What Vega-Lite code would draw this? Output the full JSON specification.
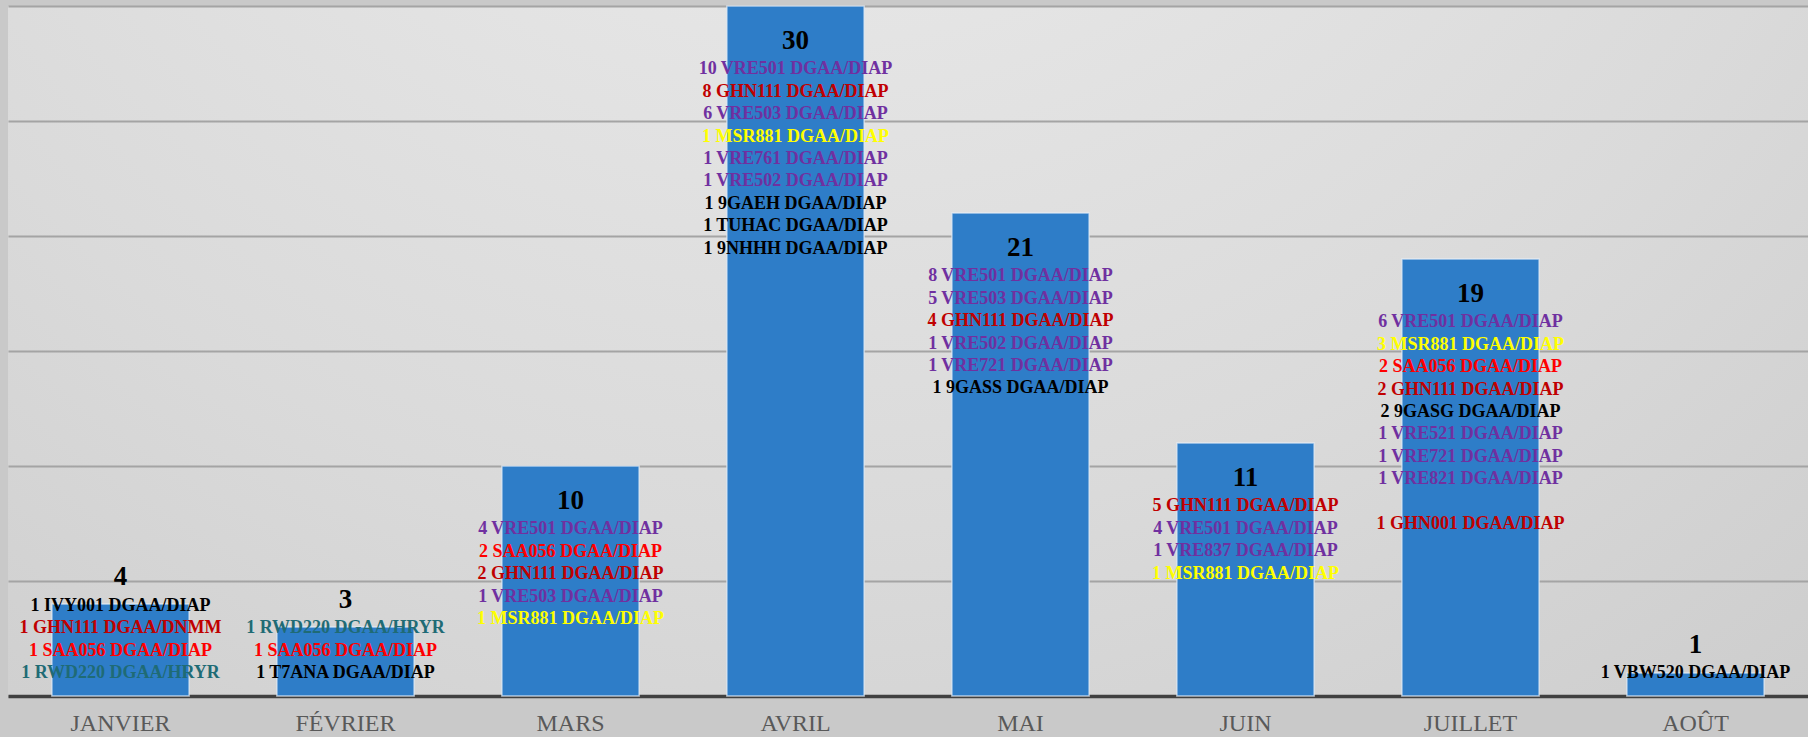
{
  "$schema": "https://vega.github.io/schema/vega-lite/v6.json",
  "width": 1800,
  "height": 690,
  "padding": {"left": 8, "top": 5, "right": 0, "bottom": 2},
  "background": "#C9C9C9",
  "config": {
    "view": {
      "stroke": null,
      "fill": {
        "gradient": "radial",
        "x1": 0.45, "y1": 0.0, "r1": 0,
        "x2": 0.45, "y2": 0.0, "r2": 1.0,
        "stops": [
          {"offset": 0, "color": "#F0F0F0"},
          {"offset": 0.6, "color": "#DADADA"},
          {"offset": 1, "color": "#C8C8C8"}
        ]
      }
    },
    "font": "Liberation Serif"
  },
  "datasets": {
    "mois": [
      {"mois": "JANVIER", "total": 4},
      {"mois": "FÉVRIER", "total": 3},
      {"mois": "MARS", "total": 10},
      {"mois": "AVRIL", "total": 30},
      {"mois": "MAI", "total": 21},
      {"mois": "JUIN", "total": 11},
      {"mois": "JUILLET", "total": 19},
      {"mois": "AOÛT", "total": 1}
    ],
    "lignes": [
      {"mois": "JANVIER", "rang": 1, "famille": "IVY", "texte": "1 IVY001 DGAA/DIAP"},
      {"mois": "JANVIER", "rang": 2, "famille": "GHN", "texte": "1 GHN111 DGAA/DNMM"},
      {"mois": "JANVIER", "rang": 3, "famille": "SAA", "texte": "1 SAA056 DGAA/DIAP"},
      {"mois": "JANVIER", "rang": 4, "famille": "RWD", "texte": "1 RWD220 DGAA/HRYR"},
      {"mois": "FÉVRIER", "rang": 1, "famille": "RWD", "texte": "1 RWD220 DGAA/HRYR"},
      {"mois": "FÉVRIER", "rang": 2, "famille": "SAA", "texte": "1 SAA056 DGAA/DIAP"},
      {"mois": "FÉVRIER", "rang": 3, "famille": "T7A", "texte": "1 T7ANA DGAA/DIAP"},
      {"mois": "MARS", "rang": 1, "famille": "VRE", "texte": "4 VRE501 DGAA/DIAP"},
      {"mois": "MARS", "rang": 2, "famille": "SAA", "texte": "2 SAA056 DGAA/DIAP"},
      {"mois": "MARS", "rang": 3, "famille": "GHN", "texte": "2 GHN111 DGAA/DIAP"},
      {"mois": "MARS", "rang": 4, "famille": "VRE", "texte": "1 VRE503 DGAA/DIAP"},
      {"mois": "MARS", "rang": 5, "famille": "MSR", "texte": "1 MSR881 DGAA/DIAP"},
      {"mois": "AVRIL", "rang": 1, "famille": "VRE", "texte": "10 VRE501 DGAA/DIAP"},
      {"mois": "AVRIL", "rang": 2, "famille": "GHN", "texte": "8 GHN111 DGAA/DIAP"},
      {"mois": "AVRIL", "rang": 3, "famille": "VRE", "texte": "6 VRE503 DGAA/DIAP"},
      {"mois": "AVRIL", "rang": 4, "famille": "MSR", "texte": "1 MSR881 DGAA/DIAP"},
      {"mois": "AVRIL", "rang": 5, "famille": "VRE", "texte": "1 VRE761 DGAA/DIAP"},
      {"mois": "AVRIL", "rang": 6, "famille": "VRE", "texte": "1 VRE502 DGAA/DIAP"},
      {"mois": "AVRIL", "rang": 7, "famille": "9GA", "texte": "1 9GAEH DGAA/DIAP"},
      {"mois": "AVRIL", "rang": 8, "famille": "TUH", "texte": "1 TUHAC DGAA/DIAP"},
      {"mois": "AVRIL", "rang": 9, "famille": "9NH", "texte": "1 9NHHH DGAA/DIAP"},
      {"mois": "MAI", "rang": 1, "famille": "VRE", "texte": "8 VRE501 DGAA/DIAP"},
      {"mois": "MAI", "rang": 2, "famille": "VRE", "texte": "5 VRE503 DGAA/DIAP"},
      {"mois": "MAI", "rang": 3, "famille": "GHN", "texte": "4 GHN111 DGAA/DIAP"},
      {"mois": "MAI", "rang": 4, "famille": "VRE", "texte": "1 VRE502 DGAA/DIAP"},
      {"mois": "MAI", "rang": 5, "famille": "VRE", "texte": "1 VRE721 DGAA/DIAP"},
      {"mois": "MAI", "rang": 6, "famille": "9GA", "texte": "1 9GASS DGAA/DIAP"},
      {"mois": "JUIN", "rang": 1, "famille": "GHN", "texte": "5 GHN111 DGAA/DIAP"},
      {"mois": "JUIN", "rang": 2, "famille": "VRE", "texte": "4 VRE501 DGAA/DIAP"},
      {"mois": "JUIN", "rang": 3, "famille": "VRE", "texte": "1 VRE837 DGAA/DIAP"},
      {"mois": "JUIN", "rang": 4, "famille": "MSR", "texte": "1 MSR881 DGAA/DIAP"},
      {"mois": "JUILLET", "rang": 1, "famille": "VRE", "texte": "6 VRE501 DGAA/DIAP"},
      {"mois": "JUILLET", "rang": 2, "famille": "MSR", "texte": "3 MSR881 DGAA/DIAP"},
      {"mois": "JUILLET", "rang": 3, "famille": "SAA", "texte": "2 SAA056 DGAA/DIAP"},
      {"mois": "JUILLET", "rang": 4, "famille": "GHN", "texte": "2 GHN111 DGAA/DIAP"},
      {"mois": "JUILLET", "rang": 5, "famille": "9GA", "texte": "2 9GASG DGAA/DIAP"},
      {"mois": "JUILLET", "rang": 6, "famille": "VRE", "texte": "1 VRE521 DGAA/DIAP"},
      {"mois": "JUILLET", "rang": 7, "famille": "VRE", "texte": "1 VRE721 DGAA/DIAP"},
      {"mois": "JUILLET", "rang": 8, "famille": "VRE", "texte": "1 VRE821 DGAA/DIAP"},
      {"mois": "JUILLET", "rang": 10, "famille": "GHN", "texte": "1 GHN001 DGAA/DIAP"},
      {"mois": "AOÛT", "rang": 1, "famille": "VBW", "texte": "1 VBW520 DGAA/DIAP"}
    ]
  },
  "encoding": {
    "x": {
      "field": "mois",
      "type": "nominal",
      "scale": {
        "domain": ["JANVIER", "FÉVRIER", "MARS", "AVRIL", "MAI", "JUIN", "JUILLET", "AOÛT"],
        "paddingInner": 0.39,
        "paddingOuter": 0.195
      },
      "axis": {
        "title": null,
        "labelAngle": 0,
        "ticks": false,
        "domainColor": "#404040",
        "domainWidth": 3.5,
        "labelFont": "Liberation Serif",
        "labelFontSize": 24,
        "labelColor": "#595959",
        "labelPadding": 15
      }
    }
  },
  "layer": [
    {
      "data": {"name": "mois"},
      "mark": {"type": "bar", "color": "#2E7DC8", "stroke": "#E8F0F8", "strokeOpacity": 0.7, "strokeWidth": 1.5},
      "encoding": {
        "y": {
          "field": "total",
          "type": "quantitative",
          "scale": {"domain": [0, 30], "nice": false, "zero": true},
          "axis": {
            "title": null,
            "values": [0, 5, 10, 15, 20, 25, 30],
            "labels": false,
            "ticks": false,
            "domain": false,
            "grid": true,
            "gridColor": "#A4A4A4",
            "gridWidth": 2
          }
        }
      }
    },
    {
      "data": {"name": "lignes"},
      "transform": [
        {"aggregate": [{"op": "max", "field": "rang", "as": "n"}], "groupby": ["mois"]},
        {"lookup": "mois", "from": {"data": {"name": "mois"}, "key": "mois", "fields": ["total"]}},
        {"calculate": "max(datum.total, 3.74 + 0.978 * (datum.n - 1))", "as": "ancre"}
      ],
      "mark": {"type": "text", "font": "Liberation Serif", "fontWeight": "bold", "fontSize": 27, "baseline": "middle", "color": "#000000", "dy": 35},
      "encoding": {
        "y": {"field": "ancre", "type": "quantitative"},
        "text": {"field": "total", "type": "quantitative"}
      }
    },
    {
      "data": {"name": "lignes"},
      "transform": [
        {"joinaggregate": [{"op": "max", "field": "rang", "as": "n"}], "groupby": ["mois"]},
        {"lookup": "mois", "from": {"data": {"name": "mois"}, "key": "mois", "fields": ["total"]}},
        {"calculate": "max(datum.total, 3.74 + 0.978 * (datum.n - 1)) - 2.74 - 0.978 * (datum.rang - 1)", "as": "niveau"}
      ],
      "mark": {"type": "text", "font": "Liberation Serif", "fontWeight": "bold", "fontSize": 18, "baseline": "middle"},
      "encoding": {
        "y": {"field": "niveau", "type": "quantitative"},
        "text": {"field": "texte", "type": "nominal"},
        "color": {
          "field": "famille",
          "type": "nominal",
          "legend": null,
          "scale": {
            "domain": ["VRE", "GHN", "SAA", "MSR", "RWD", "IVY", "T7A", "9GA", "TUH", "9NH", "VBW"],
            "range": ["#7030A0", "#C00000", "#FF0000", "#FFFF00", "#1F6B75", "#000000", "#000000", "#000000", "#000000", "#000000", "#000000"]
          }
        }
      }
    }
  ]
}
